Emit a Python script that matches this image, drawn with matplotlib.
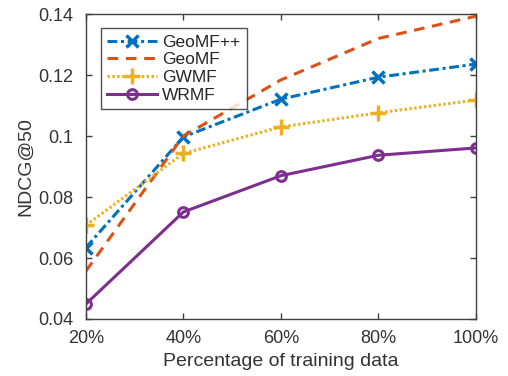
import numpy as np
import matplotlib.pyplot as plt

plt.rcParams['font.family'] = ['Liberation Sans', 'DejaVu Sans']

# NDCG@50 for each share of training data
train_pct = ['20%', '40%', '60%', '80%', '100%']
geomf_pp = [0.0634, 0.0997, 0.1121, 0.1193, 0.1236]
geomf = [0.0557, 0.1000, 0.1184, 0.1320, 0.1393]
gwmf = [0.0707, 0.0943, 0.1030, 0.1076, 0.1118]
wrmf = [0.0449, 0.0751, 0.0870, 0.0937, 0.0961]

x = np.arange(len(train_pct))

fig = plt.figure(figsize=(5.08, 3.76), dpi=100)
ax = fig.add_axes([0.169, 0.1516, 0.768, 0.811])

ax.plot(x, geomf_pp, color='#0072BD', lw=2.2, ls=(0, (3.2, 1.2, 1, 1.2)),
        marker='x', ms=9, mew=2.5, label='GeoMF++')
ax.plot(x, geomf, color='#D95319', lw=2.2, ls=(0, (3.5, 2.5)), label='GeoMF')
ax.plot(x, gwmf, color='#EDB120', lw=2.2, ls=(0, (0.8, 0.8)),
        marker='+', ms=11, mew=2.5, label='GWMF')
ax.plot(x, wrmf, color='#7E2F8E', lw=2.2, ls='-',
        marker='o', ms=7, mew=2.2, mfc='none', label='WRMF')

ax.set_xlim(0, 4)
ax.set_ylim(0.04, 0.14)
ax.set_xticks(x)
ax.set_xticklabels(train_pct)
ax.set_yticks([0.04, 0.06, 0.08, 0.1, 0.12, 0.14])
ax.set_yticklabels(['0.04', '0.06', '0.08', '0.1', '0.12', '0.14'])

axis_col = '#404040'
for s in ax.spines.values():
    s.set_color(axis_col)
    s.set_linewidth(1.0)
ax.tick_params(direction='in', length=4, width=1, colors=axis_col,
               labelcolor='#333333', labelsize=13, top=True, right=True)
ax.tick_params(axis='x', pad=8)
ax.tick_params(axis='y', pad=9)

ax.set_xlabel('Percentage of training data', fontsize=14, color='#333333', labelpad=4)
ax.set_ylabel('NDCG@50', fontsize=14, color='#333333', labelpad=3)

leg = ax.legend(loc='upper left', bbox_to_anchor=(0.038, 0.953), fontsize=12.5,
                frameon=True, fancybox=False, handlelength=2.9, handletextpad=0.3,
                labelspacing=0.15, borderpad=0.35, borderaxespad=0)
leg.get_frame().set_edgecolor('#262626')
leg.get_frame().set_linewidth(1.0)
for t in leg.get_texts():
    t.set_color('#262626')

fig.savefig('out.png', dpi=100)
